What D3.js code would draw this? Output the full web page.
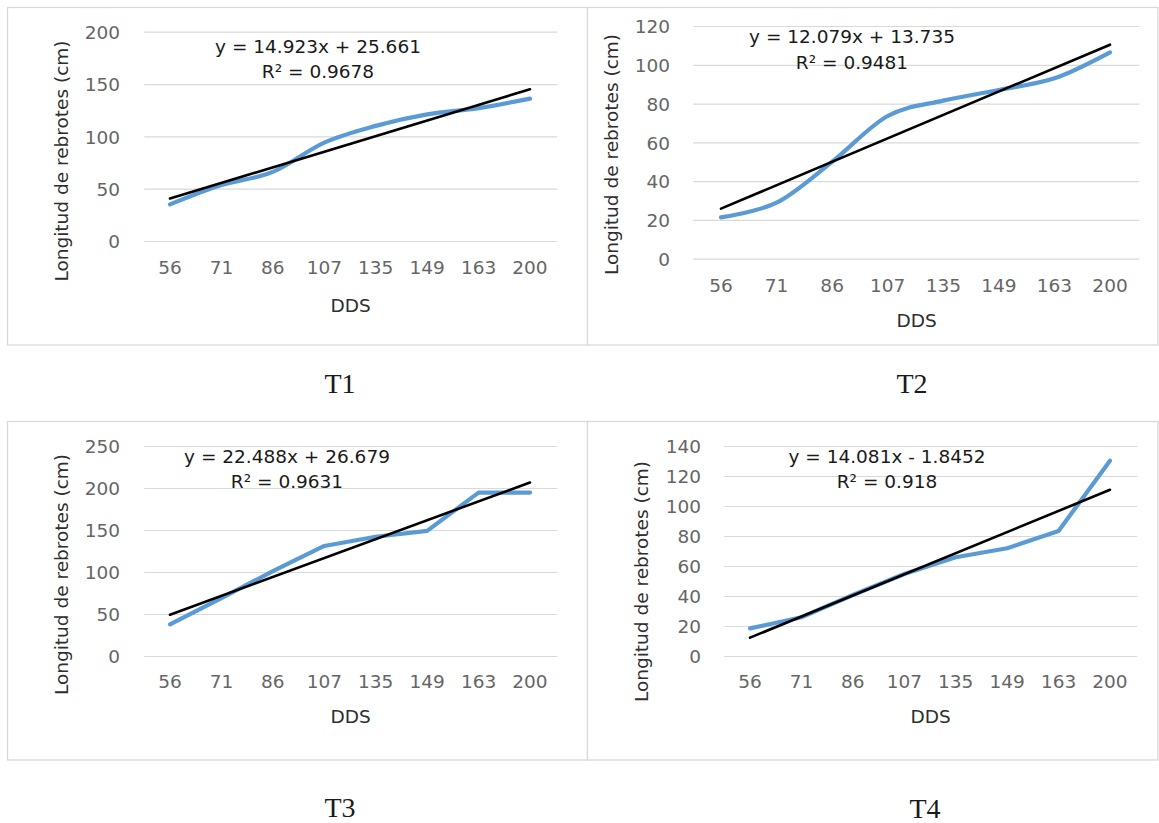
<!DOCTYPE html>
<html>
<head>
<meta charset="utf-8">
<script src="https://cdn.jsdelivr.net/npm/d3@7"></script>
<style>
  html, body { margin: 0; padding: 0; background: #ffffff; }
  svg { display: block; }
  text { font-family: "DejaVu Sans", sans-serif; }
  text.treatment { font-family: "Liberation Serif", "Times New Roman", serif; }
</style>
</head>
<body>
<svg id="chart" width="1159" height="823"></svg>
<script>
// Días después de la siembra (DDS)
const categories = ["56", "71", "86", "107", "135", "149", "163", "200"];

// Longitud de rebrotes (cm) por tratamiento
const t1Values = [35, 53.5, 66, 94, 110, 121, 127, 136];
const t2Values = [21.3, 28.9, 50, 73.6, 81.5, 87, 93, 106.4];
const t3Values = [37.7, 69, 101, 131, 142, 149, 194.5, 194.5];
const t4Values = [18.4, 25.8, 40.7, 54.7, 65.8, 71.8, 83.3, 130.2];

// Tendencias lineales
const slopes = [14.923, 12.079, 22.488, 14.081];
const intercepts = [25.661, 13.735, 26.679, -1.8452];
const rSquared = ["0.9678", "0.9481", "0.9631", "0.918"];

// Ejes Y
const yMaxima = [200, 120, 250, 140];
const yTickSteps = [50, 20, 50, 20];

const treatmentNames = ["T1", "T2", "T3", "T4"];
const seriesValues = [t1Values, t2Values, t3Values, t4Values];
const smoothed = [true, true, false, false];

// Ubicación de cada gráfico en la página
const layout = [
  { frame: [7.5, 7.5, 587.5, 345], plot: [144.3, 555.7, 31.7, 241], tickRight: 120, xLabelY: 267,
    dds: [350.7, 305], yTitle: [61.5, 161], eq: [318, 46], r2: 71.7, name: [340, 383] },
  { frame: [587.5, 7.5, 1158, 345], plot: [693.2, 1137.8, 26, 258.7], tickRight: 670, xLabelY: 285,
    dds: [916.7, 320.7], yTitle: [611.5, 154.5], eq: [852, 36.7], r2: 62.3, name: [912, 383] },
  { frame: [7.5, 421.5, 587.5, 760], plot: [144.3, 555.7, 446, 656], tickRight: 120, xLabelY: 681.7,
    dds: [350.7, 716.7], yTitle: [61.5, 574.5], eq: [287, 456], r2: 481.7, name: [340, 807] },
  { frame: [587.5, 421.5, 1158, 760], plot: [724.3, 1135.7, 446, 656], tickRight: 701, xLabelY: 681.7,
    dds: [930.7, 716.7], yTitle: [641, 581.5], eq: [887, 456], r2: 481.7, name: [925, 808] }
];

const svg = d3.select("#chart");
const fontSize = 18.5;

layout.forEach((L, i) => {
  const g = svg.append("g");
  const [fx0, fy0, fx1, fy1] = L.frame;
  const [px0, px1, pyTop, pyBottom] = L.plot;

  // marco del gráfico
  g.append("rect")
    .attr("x", fx0).attr("y", fy0)
    .attr("width", fx1 - fx0).attr("height", fy1 - fy0)
    .attr("fill", "#ffffff")
    .attr("stroke", "#d9d9d9")
    .attr("stroke-width", 1.3);

  const x = d3.scaleBand().domain(categories).range([px0, px1]);
  const y = d3.scaleLinear().domain([0, yMaxima[i]]).range([pyBottom, pyTop]);
  const ticks = d3.range(0, yMaxima[i] + 0.001, yTickSteps[i]);

  // líneas de cuadrícula
  const yGrid = d3.axisLeft(y).tickValues(ticks).tickSize(-(px1 - px0 + 1.5)).tickFormat("");
  g.append("g")
    .attr("transform", `translate(${px0},0)`)
    .call(yGrid)
    .call(s => s.select(".domain").remove())
    .call(s => s.selectAll("line").attr("stroke", "#d9d9d9").attr("stroke-width", 1.2));

  // etiquetas del eje Y
  const yAxis = d3.axisLeft(y).tickValues(ticks).tickSize(0).tickPadding(0);
  g.append("g")
    .attr("transform", `translate(${L.tickRight},0)`)
    .call(yAxis)
    .call(s => s.select(".domain").remove())
    .call(s => s.selectAll("text")
      .attr("font-size", fontSize)
      .attr("fill", "#666666")
      .attr("dy", "0.36em"));

  // etiquetas del eje X
  const xAxis = d3.axisBottom(x).tickSize(0).tickPadding(0);
  g.append("g")
    .attr("transform", `translate(0,${L.xLabelY})`)
    .call(xAxis)
    .call(s => s.select(".domain").remove())
    .call(s => s.selectAll("text")
      .attr("font-size", fontSize)
      .attr("fill", "#666666")
      .attr("dy", "0.36em"));

  // títulos de ejes
  g.append("text")
    .attr("x", L.dds[0]).attr("y", L.dds[1])
    .attr("text-anchor", "middle").attr("dy", "0.36em")
    .attr("font-size", fontSize).attr("fill", "#2e2e2e")
    .text("DDS");

  g.append("text")
    .attr("transform", `translate(${L.yTitle[0]},${L.yTitle[1]}) rotate(-90)`)
    .attr("text-anchor", "middle").attr("dy", "0.36em")
    .attr("font-size", fontSize).attr("fill", "#2e2e2e")
    .text("Longitud de rebrotes (cm)");

  // serie observada
  const cx = (d, j) => x(categories[j]) + x.bandwidth() / 2;
  const line = d3.line()
    .x(cx)
    .y(d => y(d))
    .curve(smoothed[i] ? d3.curveCardinal.tension(0) : d3.curveLinear);
  g.append("path")
    .datum(seriesValues[i])
    .attr("d", line)
    .attr("fill", "none")
    .attr("stroke", "#5b9bd5")
    .attr("stroke-width", 4.2)
    .attr("stroke-linejoin", "round")
    .attr("stroke-linecap", "round");

  // línea de tendencia lineal (x = 1..8)
  const trend = categories.map((c, j) => slopes[i] * (j + 1) + intercepts[i]);
  const ends = [0, trend.length - 1];
  g.append("path")
    .datum(ends)
    .attr("d", d3.line().x(j => cx(null, j)).y(j => y(trend[j])))
    .attr("fill", "none")
    .attr("stroke", "#000000")
    .attr("stroke-width", 2.6)
    .attr("stroke-linecap", "round");

  // ecuación y R²
  const b = intercepts[i];
  const eqText = `y = ${slopes[i]}x ${b < 0 ? "-" : "+"} ${Math.abs(b)}`;
  g.append("text")
    .attr("x", L.eq[0]).attr("y", L.eq[1])
    .attr("text-anchor", "middle").attr("dy", "0.36em")
    .attr("font-size", fontSize).attr("fill", "#1a1a1a")
    .text(eqText);
  g.append("text")
    .attr("x", L.eq[0]).attr("y", L.r2)
    .attr("text-anchor", "middle").attr("dy", "0.36em")
    .attr("font-size", fontSize).attr("fill", "#1a1a1a")
    .text(`R² = ${rSquared[i]}`);

  // nombre del tratamiento
  svg.append("text")
    .attr("class", "treatment")
    .attr("x", L.name[0]).attr("y", L.name[1])
    .attr("text-anchor", "middle").attr("dy", "0.35em")
    .attr("font-size", 28)
    .attr("fill", "#1a1a1a")
    .text(treatmentNames[i]);
});
</script>
</body>
</html>
